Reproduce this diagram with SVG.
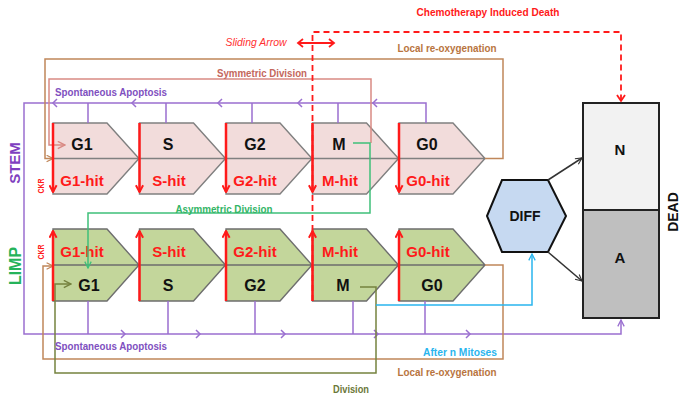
<svg xmlns="http://www.w3.org/2000/svg" width="681" height="396" viewBox="0 0 681 396">
<style>
text{font-family:"Liberation Sans",Arial,sans-serif;font-weight:bold}
.stem{fill:#f2dcdb;stroke:#808080;stroke-width:1.4}
.limp{fill:#c3d69b;stroke:#6e6e6e;stroke-width:1.4}
.lbl{font-size:16px;fill:#111;text-anchor:middle}
.hit{font-size:15px;fill:#ff1a1a;text-anchor:middle}
.red{fill:none;stroke:#ff1a1a;stroke-width:2.5}
.c{fill:none;stroke-width:1.5}
.sm{font-size:10px;text-anchor:middle}
.dead{stroke:#222;stroke-width:2}
</style>
<defs>
<marker id="mRed" viewBox="0 0 10 10" refX="8.5" refY="5" markerWidth="9" markerHeight="9" markerUnits="userSpaceOnUse" orient="auto"><path d="M1,1 L8.5,5 L1,9" fill="none" stroke="#ff1a1a" stroke-width="2.2"/></marker>
<marker id="mBrown" viewBox="0 0 10 10" refX="9" refY="5" markerWidth="8" markerHeight="8" markerUnits="userSpaceOnUse" orient="auto"><path d="M1,1 L9,5 L1,9" fill="none" stroke="#c0875a" stroke-width="1.6"/></marker>
<marker id="mPink" viewBox="0 0 10 10" refX="9" refY="5" markerWidth="9" markerHeight="9" markerUnits="userSpaceOnUse" orient="auto"><path d="M1,1 L9,5 L1,9" fill="none" stroke="#d98a84" stroke-width="1.6"/></marker>
<marker id="mGreen" viewBox="0 0 10 10" refX="9" refY="5" markerWidth="8" markerHeight="8" markerUnits="userSpaceOnUse" orient="auto"><path d="M1,1 L9,5 L1,9" fill="none" stroke="#3fc07a" stroke-width="1.6"/></marker>
<marker id="mOlive" viewBox="0 0 10 10" refX="9" refY="5" markerWidth="9" markerHeight="9" markerUnits="userSpaceOnUse" orient="auto"><path d="M1,1 L9,5 L1,9" fill="none" stroke="#75823f" stroke-width="1.6"/></marker>
<marker id="mCyan" viewBox="0 0 10 10" refX="9" refY="5" markerWidth="8" markerHeight="8" markerUnits="userSpaceOnUse" orient="auto"><path d="M1,1 L9,5 L1,9" fill="none" stroke="#2ab5ee" stroke-width="1.6"/></marker>
<marker id="mPurple" viewBox="0 0 10 10" refX="9" refY="5" markerWidth="8" markerHeight="8" markerUnits="userSpaceOnUse" orient="auto"><path d="M1,1 L9,5 L1,9" fill="none" stroke="#9a6fd0" stroke-width="1.6"/></marker>
<marker id="mBlack" viewBox="0 0 10 10" refX="9" refY="5" markerWidth="8" markerHeight="8" markerUnits="userSpaceOnUse" orient="auto"><path d="M1,1 L9,5 L1,9" fill="none" stroke="#333" stroke-width="1.4"/></marker>
<path id="stemBox" d="M0,0 H54 L86,35.5 L54,71 H0 Z M0,35.5 H86"/>
<path id="limpBox" d="M0,0 H54 L86,36 L54,72 H0 Z M0,36 H86"/>
</defs>

<!-- side labels -->
<text transform="translate(20,163) rotate(-90)" style="font-size:15px;fill:#7f3fbf;text-anchor:middle">STEM</text>
<text transform="translate(21,266) rotate(-90)" style="font-size:16px;fill:#25b35a;text-anchor:middle">LIMP</text>
<text transform="translate(44,186) rotate(-90)" style="font-size:8.5px;fill:#ff1a1a;text-anchor:middle" textLength="15" lengthAdjust="spacingAndGlyphs">CKR</text>
<text transform="translate(44,252) rotate(-90)" style="font-size:8.5px;fill:#ff1a1a;text-anchor:middle" textLength="15" lengthAdjust="spacingAndGlyphs">CKR</text>

<!-- STEM row -->
<g id="stem-G1"><use href="#stemBox" transform="translate(53,123)" class="stem"/><text class="lbl" x="82" y="150">G1</text><text class="hit" x="82" y="186">G1-hit</text></g>
<g id="stem-S"><use href="#stemBox" transform="translate(139.5,123)" class="stem"/><text class="lbl" x="168" y="150">S</text><text class="hit" x="169" y="186">S-hit</text></g>
<g id="stem-G2"><use href="#stemBox" transform="translate(226,123)" class="stem"/><text class="lbl" x="255" y="150">G2</text><text class="hit" x="255" y="186">G2-hit</text></g>
<g id="stem-M"><use href="#stemBox" transform="translate(312.5,123)" class="stem"/><text class="lbl" x="339" y="150">M</text><text class="hit" x="340" y="186">M-hit</text></g>
<g id="stem-G0"><use href="#stemBox" transform="translate(399,123)" class="stem"/><text class="lbl" x="427" y="150">G0</text><text class="hit" x="428" y="186">G0-hit</text></g>

<!-- LIMP row -->
<g id="limp-G1"><use href="#limpBox" transform="translate(53,229)" class="limp"/><text class="hit" x="82" y="257">G1-hit</text><text class="lbl" x="89" y="291">G1</text></g>
<g id="limp-S"><use href="#limpBox" transform="translate(139.5,229)" class="limp"/><text class="hit" x="169" y="257">S-hit</text><text class="lbl" x="168" y="291">S</text></g>
<g id="limp-G2"><use href="#limpBox" transform="translate(226,229)" class="limp"/><text class="hit" x="255" y="257">G2-hit</text><text class="lbl" x="255" y="291">G2</text></g>
<g id="limp-M"><use href="#limpBox" transform="translate(312.5,229)" class="limp"/><text class="hit" x="340" y="257">M-hit</text><text class="lbl" x="343" y="291">M</text></g>
<g id="limp-G0"><use href="#limpBox" transform="translate(399,229)" class="limp"/><text class="hit" x="428" y="257">G0-hit</text><text class="lbl" x="432" y="291">G0</text></g>

<!-- DIFF -->
<g id="diff"><polygon points="487,216 502,180 548,180 566,216 548,252 502,252" fill="#c6d9f1" stroke="#111" stroke-width="2"/><text x="525" y="221" style="font-size:14px;fill:#111;text-anchor:middle">DIFF</text></g>

<!-- DEAD -->
<g id="dead">
<rect x="583" y="103" width="76" height="107" fill="#f2f2f2" class="dead"/>
<rect x="583" y="210" width="76" height="108" fill="#bfbfbf" class="dead"/>
<text x="620" y="155" style="font-size:15px;fill:#111;text-anchor:middle">N</text>
<text x="620" y="263" style="font-size:15px;fill:#111;text-anchor:middle">A</text>
<text transform="translate(678,212) rotate(-90)" style="font-size:14px;fill:#111;text-anchor:middle">DEAD</text>
</g>

<g id="connectors">
<!-- purple spontaneous apoptosis -->
<path class="c" stroke="#9a6fd0" d="M426,123 V103 H24 V334 H621 V320" marker-end="url(#mPurple)"/>
<path class="c" stroke="#9a6fd0" d="M88,103 V123 M166,103 V123 M252,103 V123 M338,103 V123 M88,301 V334 M168,301 V334 M255,301 V334 M353,301 V334 M425,301 V334"/>
<path class="c" stroke="#9a6fd0" d="M57,99 L53,103 L57,107 M136,99 L132,103 L136,107 M222,99 L218,103 L222,107 M302,99 L298,103 L302,107 M377,99 L373,103 L377,107"/>
<path class="c" stroke="#9a6fd0" d="M121,330 L125,334 L121,338 M196,330 L200,334 L196,338 M281,330 L285,334 L281,338 M374,330 L378,334 L374,338 M466,330 L470,334 L466,338"/>
<!-- local re-oxygenation -->
<path class="c" stroke="#c0875a" d="M485,158.5 H503 V59 H45 V158.5 H53" marker-end="url(#mBrown)"/>
<path class="c" stroke="#c0875a" d="M485,265 H503 V359 H43 V266 H53" marker-end="url(#mBrown)"/>
<!-- symmetric division -->
<path class="c" stroke="#d98a84" d="M371,143 V79 H49 V145 H65" marker-end="url(#mPink)"/>
<!-- asymmetric division -->
<path class="c" stroke="#3fc07a" d="M353,143 H370 V213 H88 V268" marker-end="url(#mGreen)"/>
<!-- division -->
<path class="c" stroke="#75823f" d="M360,287 H376 V373 H55 V284 H71" marker-end="url(#mOlive)"/>
<!-- after n mitoses -->
<path class="c" stroke="#2ab5ee" d="M376,305 H532 V254" marker-end="url(#mCyan)"/>
<!-- DIFF to DEAD -->
<path class="c" stroke="#333" stroke-width="1.3" d="M548,180 L582,158" marker-end="url(#mBlack)"/>
<path class="c" stroke="#333" stroke-width="1.3" d="M548,252 L582,281" marker-end="url(#mBlack)"/>
<!-- hit arrows -->
<path class="red" d="M53,123 V192" marker-end="url(#mRed)"/>
<path class="red" d="M139.5,123 V192" marker-end="url(#mRed)"/>
<path class="red" d="M226,123 V192" marker-end="url(#mRed)"/>
<path class="red" d="M312.5,123 V192" marker-end="url(#mRed)"/>
<path class="red" d="M399,123 V192" marker-end="url(#mRed)"/>
<path class="red" d="M53,301 V231" marker-end="url(#mRed)"/>
<path class="red" d="M139.5,301 V231" marker-end="url(#mRed)"/>
<path class="red" d="M226,301 V231" marker-end="url(#mRed)"/>
<path class="red" d="M312.5,301 V231" marker-end="url(#mRed)"/>
<path class="red" d="M399,301 V231" marker-end="url(#mRed)"/>
<!-- chemotherapy induced death -->
<path fill="none" stroke="#ff1a1a" stroke-width="1.8" stroke-dasharray="6,4" d="M312.5,301 V32 H621 V101"/>
<path fill="none" stroke="#ff1a1a" stroke-width="1.8" d="M617,95 L621,101 L625,95"/>
<!-- sliding arrow -->
<path fill="none" stroke="#ff1a1a" stroke-width="1.8" d="M298,43 H334 M303,39 L298,43 L303,47 M329,39 L334,43 L329,47"/>
</g>

<g id="labels">
<text class="sm" x="488" y="16" fill="#ff1a1a" textLength="143" lengthAdjust="spacingAndGlyphs">Chemotherapy Induced Death</text>
<text class="sm" x="256" y="46" fill="#ff3030" font-style="italic" style="font-weight:normal" textLength="61" lengthAdjust="spacingAndGlyphs">Sliding Arrow</text>
<text class="sm" x="447" y="52" fill="#b8743e" textLength="99" lengthAdjust="spacingAndGlyphs">Local re-oxygenation</text>
<text class="sm" x="262" y="77" fill="#c4675c" textLength="90" lengthAdjust="spacingAndGlyphs">Symmetric Division</text>
<text class="sm" x="111" y="96" fill="#8050c0" textLength="112" lengthAdjust="spacingAndGlyphs">Spontaneous Apoptosis</text>
<text class="sm" x="224" y="213" fill="#33b566" textLength="97" lengthAdjust="spacingAndGlyphs">Asymmetric Division</text>
<text class="sm" x="111" y="350" fill="#8050c0" textLength="112" lengthAdjust="spacingAndGlyphs">Spontaneous Apoptosis</text>
<text class="sm" x="460" y="356" fill="#2ab5ee" textLength="74" lengthAdjust="spacingAndGlyphs">After n Mitoses</text>
<text class="sm" x="447" y="376" fill="#b8743e" textLength="99" lengthAdjust="spacingAndGlyphs">Local re-oxygenation</text>
<text class="sm" x="351" y="393" fill="#6b7838" textLength="36" lengthAdjust="spacingAndGlyphs">Division</text>
</g>
</svg>
